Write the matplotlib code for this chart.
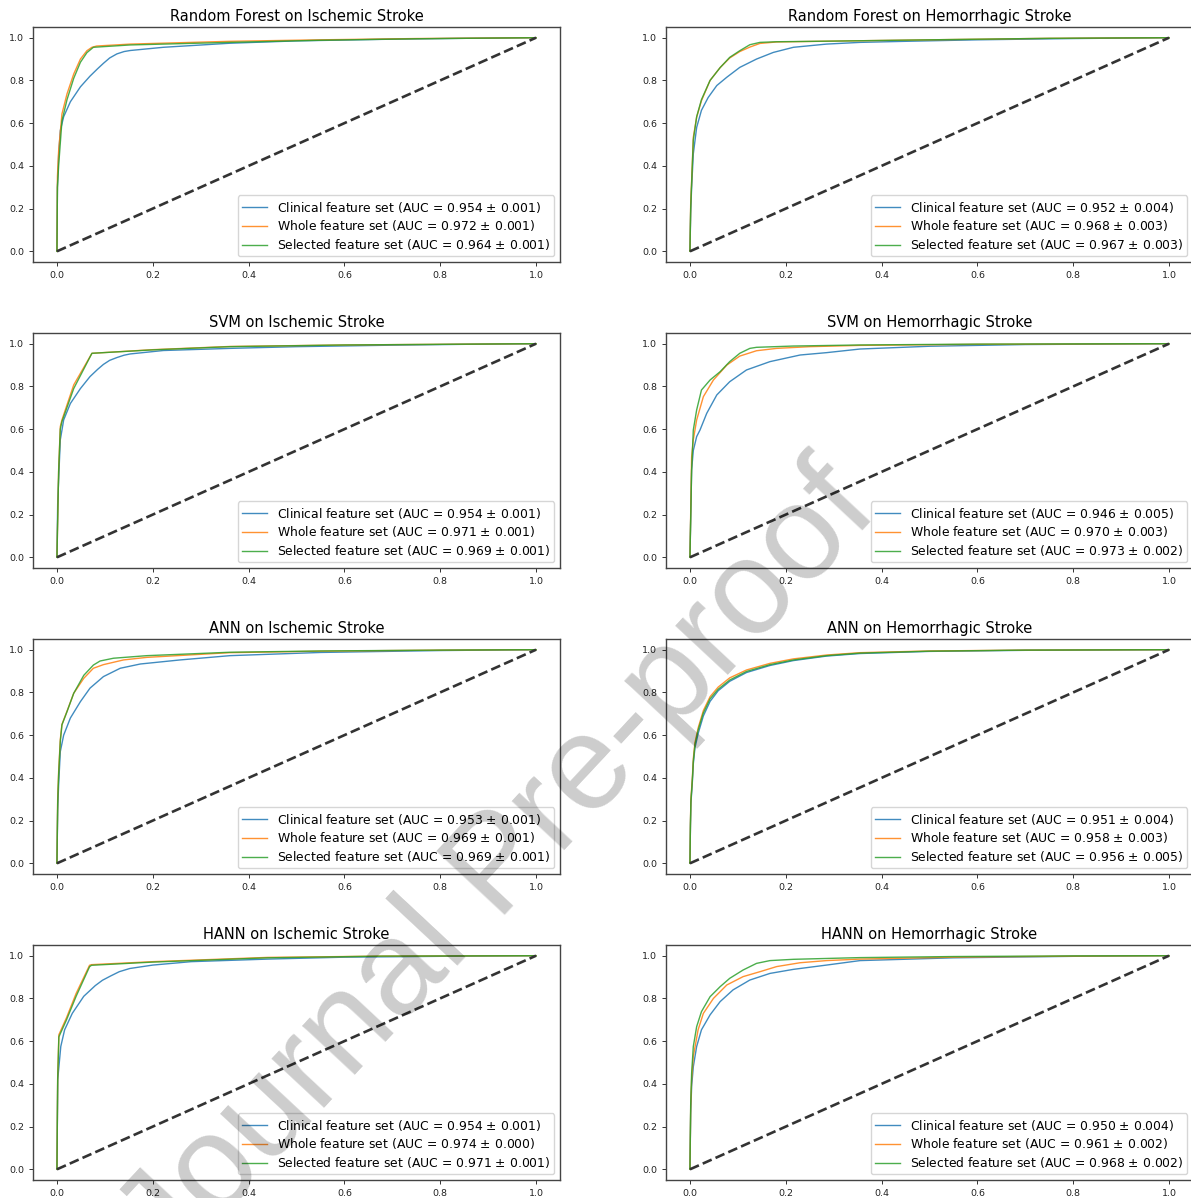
import matplotlib
matplotlib.use("Agg")
import matplotlib.pyplot as plt

# ---------------- data ----------------
titles = ["Random Forest on Ischemic Stroke", "Random Forest on Hemorrhagic Stroke",
          "SVM on Ischemic Stroke", "SVM on Hemorrhagic Stroke",
          "ANN on Ischemic Stroke", "ANN on Hemorrhagic Stroke",
          "HANN on Ischemic Stroke", "HANN on Hemorrhagic Stroke"]
series_names = ["Clinical feature set", "Whole feature set", "Selected feature set"]
auc_mean = [[0.954, 0.972, 0.964], [0.952, 0.968, 0.967],
            [0.954, 0.971, 0.969], [0.946, 0.970, 0.973],
            [0.953, 0.969, 0.969], [0.951, 0.958, 0.956],
            [0.954, 0.974, 0.971], [0.950, 0.961, 0.968]]
auc_std = [[0.001, 0.001, 0.001], [0.004, 0.003, 0.003],
           [0.001, 0.001, 0.001], [0.005, 0.003, 0.002],
           [0.001, 0.001, 0.001], [0.004, 0.003, 0.005],
           [0.001, 0.000, 0.001], [0.004, 0.002, 0.002]]
ticks = [0.0, 0.2, 0.4, 0.6, 0.8, 1.0]
tick_labels = ["0.0", "0.2", "0.4", "0.6", "0.8", "1.0"]

# RF ischemic
rf_isc_clin_fpr = [0, 0.001, 0.0035, 0.007, 0.014, 0.028, 0.049, 0.069, 0.085, 0.097, 0.11, 0.125, 0.14, 0.153, 0.222, 0.361, 0.5, 0.7, 0.85, 1.0]
rf_isc_clin_tpr = [0, 0.30, 0.45, 0.565, 0.63, 0.70, 0.77, 0.82, 0.855, 0.88, 0.905, 0.924, 0.935, 0.94, 0.955, 0.974, 0.985, 0.993, 0.997, 1.0]
rf_isc_whole_fpr = [0, 0.001, 0.0035, 0.0104, 0.021, 0.035, 0.049, 0.0625, 0.073, 0.083, 0.153, 0.361, 0.55, 0.75, 1.0]
rf_isc_whole_tpr = [0, 0.35, 0.47, 0.643, 0.737, 0.83, 0.90, 0.939, 0.955, 0.961, 0.970, 0.983, 0.99, 0.996, 1.0]
rf_isc_sel_fpr = [0, 0.001, 0.0035, 0.0104, 0.021, 0.035, 0.049, 0.0625, 0.076, 0.153, 0.361, 0.55, 0.75, 1.0]
rf_isc_sel_tpr = [0, 0.30, 0.40, 0.61, 0.71, 0.81, 0.885, 0.93, 0.955, 0.966, 0.978, 0.988, 0.995, 1.0]

# RF hemorrhagic
rf_hem_clin_fpr = [0, 0.0015, 0.0035, 0.007, 0.014, 0.024, 0.038, 0.056, 0.077, 0.104, 0.139, 0.174, 0.216, 0.285, 0.355, 0.45, 0.6, 0.8, 1.0]
rf_hem_clin_tpr = [0, 0.18, 0.30, 0.456, 0.58, 0.66, 0.72, 0.776, 0.815, 0.861, 0.90, 0.931, 0.955, 0.97, 0.978, 0.983, 0.99, 0.996, 1.0]
rf_hem_whole_fpr = [0, 0.0015, 0.0035, 0.007, 0.014, 0.024, 0.042, 0.063, 0.083, 0.104, 0.125, 0.146, 0.181, 0.3, 0.5, 0.75, 1.0]
rf_hem_whole_tpr = [0, 0.22, 0.33, 0.534, 0.628, 0.705, 0.80, 0.86, 0.905, 0.935, 0.956, 0.973, 0.98, 0.984, 0.99, 0.997, 1.0]
rf_hem_sel_fpr = [0, 0.0015, 0.0035, 0.007, 0.014, 0.024, 0.042, 0.063, 0.083, 0.104, 0.125, 0.146, 0.181, 0.3, 0.5, 0.75, 1.0]
rf_hem_sel_tpr = [0, 0.20, 0.32, 0.52, 0.63, 0.71, 0.80, 0.86, 0.908, 0.939, 0.967, 0.978, 0.981, 0.984, 0.99, 0.997, 1.0]

# SVM ischemic
svm_isc_clin_fpr = [0, 0.0015, 0.0035, 0.007, 0.014, 0.028, 0.049, 0.069, 0.085, 0.097, 0.11, 0.125, 0.14, 0.153, 0.222, 0.361, 0.5, 0.7, 0.85, 1.0]
svm_isc_clin_tpr = [0, 0.25, 0.363, 0.55, 0.643, 0.72, 0.79, 0.846, 0.88, 0.903, 0.922, 0.935, 0.946, 0.952, 0.968, 0.978, 0.986, 0.993, 0.997, 1.0]
svm_isc_whole_fpr = [0, 0.0035, 0.007, 0.0104, 0.035, 0.073, 0.2, 0.361, 0.6, 0.8, 1.0]
svm_isc_whole_tpr = [0, 0.41, 0.612, 0.643, 0.807, 0.955, 0.972, 0.987, 0.994, 0.997, 1.0]
svm_isc_sel_fpr = [0, 0.0035, 0.007, 0.0104, 0.035, 0.073, 0.2, 0.361, 0.6, 0.8, 1.0]
svm_isc_sel_tpr = [0, 0.40, 0.60, 0.635, 0.79, 0.955, 0.971, 0.986, 0.994, 0.997, 1.0]

# SVM hemorrhagic
svm_hem_clin_fpr = [0, 0.0035, 0.007, 0.014, 0.021, 0.035, 0.056, 0.083, 0.118, 0.167, 0.23, 0.285, 0.355, 0.5, 0.7, 1.0]
svm_hem_clin_tpr = [0, 0.41, 0.50, 0.565, 0.596, 0.674, 0.76, 0.822, 0.877, 0.916, 0.947, 0.958, 0.975, 0.988, 0.996, 1.0]
svm_hem_whole_fpr = [0, 0.0035, 0.007, 0.014, 0.028, 0.049, 0.077, 0.104, 0.139, 0.181, 0.25, 0.355, 0.6, 1.0]
svm_hem_whole_tpr = [0, 0.47, 0.55, 0.643, 0.752, 0.83, 0.90, 0.942, 0.967, 0.978, 0.986, 0.992, 0.997, 1.0]
svm_hem_sel_fpr = [0, 0.0035, 0.007, 0.014, 0.024, 0.042, 0.063, 0.083, 0.104, 0.125, 0.139, 0.216, 0.355, 0.6, 1.0]
svm_hem_sel_tpr = [0, 0.41, 0.596, 0.69, 0.783, 0.83, 0.869, 0.916, 0.955, 0.978, 0.983, 0.989, 0.994, 0.998, 1.0]

# ANN ischemic
ann_isc_clin_fpr = [0, 0.0015, 0.0035, 0.007, 0.014, 0.028, 0.049, 0.069, 0.097, 0.132, 0.174, 0.257, 0.361, 0.55, 0.8, 1.0]
ann_isc_clin_tpr = [0, 0.25, 0.368, 0.523, 0.60, 0.68, 0.757, 0.82, 0.874, 0.913, 0.933, 0.952, 0.972, 0.987, 0.996, 1.0]
ann_isc_whole_fpr = [0, 0.0015, 0.0035, 0.007, 0.0104, 0.021, 0.035, 0.056, 0.076, 0.097, 0.139, 0.1875, 0.361, 0.55, 0.8, 1.0]
ann_isc_whole_tpr = [0, 0.30, 0.43, 0.58, 0.65, 0.712, 0.796, 0.866, 0.913, 0.93, 0.952, 0.964, 0.986, 0.993, 0.998, 1.0]
ann_isc_sel_fpr = [0, 0.0015, 0.0035, 0.007, 0.0104, 0.021, 0.035, 0.056, 0.076, 0.09, 0.118, 0.1875, 0.361, 0.55, 0.8, 1.0]
ann_isc_sel_tpr = [0, 0.28, 0.414, 0.57, 0.648, 0.71, 0.796, 0.88, 0.928, 0.947, 0.96, 0.972, 0.988, 0.994, 0.998, 1.0]

# ANN hemorrhagic
ann_hem_fpr = [0, 0.001, 0.002, 0.005, 0.007, 0.0104, 0.0174, 0.028, 0.042, 0.059, 0.083, 0.118, 0.167, 0.216, 0.285, 0.355, 0.5, 0.7, 1.0]
ann_hem_clin_tpr = [0, 0.17, 0.28, 0.38, 0.465, 0.54, 0.61, 0.69, 0.758, 0.808, 0.852, 0.893, 0.926, 0.949, 0.97, 0.982, 0.992, 0.997, 1.0]
ann_hem_whole_tpr = [0, 0.19, 0.30, 0.40, 0.49, 0.565, 0.636, 0.715, 0.78, 0.825, 0.868, 0.905, 0.936, 0.957, 0.975, 0.986, 0.994, 0.998, 1.0]
ann_hem_sel_tpr = [0, 0.18, 0.29, 0.39, 0.477, 0.555, 0.626, 0.704, 0.77, 0.815, 0.858, 0.898, 0.93, 0.952, 0.972, 0.984, 0.993, 0.998, 1.0]

# HANN ischemic
hann_isc_clin_fpr = [0, 0.0016, 0.008, 0.016, 0.032, 0.056, 0.08, 0.095, 0.112, 0.13, 0.152, 0.2, 0.28, 0.44, 0.6, 0.8, 1.0]
hann_isc_clin_tpr = [0, 0.42, 0.575, 0.653, 0.73, 0.81, 0.86, 0.885, 0.905, 0.925, 0.94, 0.956, 0.972, 0.984, 0.993, 0.997, 1.0]
hann_isc_fpr = [0, 0.0015, 0.004, 0.02, 0.04, 0.068, 0.072, 0.2, 0.44, 0.68, 1.0]
hann_isc_whole_tpr = [0, 0.43, 0.63, 0.71, 0.823, 0.955, 0.958, 0.972, 0.992, 0.998, 1.0]
hann_isc_sel_tpr = [0, 0.42, 0.62, 0.70, 0.81, 0.948, 0.955, 0.97, 0.99, 0.998, 1.0]

# HANN hemorrhagic
hann_hem_clin_fpr = [0, 0.0015, 0.0035, 0.007, 0.014, 0.024, 0.042, 0.063, 0.09, 0.125, 0.167, 0.216, 0.285, 0.355, 0.55, 0.8, 1.0]
hann_hem_clin_tpr = [0, 0.26, 0.388, 0.48, 0.575, 0.653, 0.723, 0.785, 0.84, 0.886, 0.917, 0.936, 0.956, 0.977, 0.99, 0.997, 1.0]
hann_hem_whole_fpr = [0, 0.0015, 0.0035, 0.007, 0.017, 0.028, 0.049, 0.077, 0.111, 0.146, 0.181, 0.23, 0.285, 0.355, 0.55, 0.8, 1.0]
hann_hem_whole_tpr = [0, 0.28, 0.42, 0.528, 0.653, 0.73, 0.80, 0.863, 0.902, 0.925, 0.949, 0.967, 0.977, 0.984, 0.993, 0.998, 1.0]
hann_hem_sel_fpr = [0, 0.0015, 0.0035, 0.007, 0.014, 0.024, 0.042, 0.063, 0.083, 0.111, 0.139, 0.167, 0.216, 0.355, 0.55, 0.8, 1.0]
hann_hem_sel_tpr = [0, 0.30, 0.45, 0.575, 0.668, 0.738, 0.808, 0.855, 0.894, 0.933, 0.964, 0.977, 0.983, 0.991, 0.996, 0.999, 1.0]

diag = [0.0, 1.0]
watermark_text = "Journal Pre-proof"

panels = [
    [(rf_isc_clin_fpr, rf_isc_clin_tpr), (rf_isc_whole_fpr, rf_isc_whole_tpr), (rf_isc_sel_fpr, rf_isc_sel_tpr)],
    [(rf_hem_clin_fpr, rf_hem_clin_tpr), (rf_hem_whole_fpr, rf_hem_whole_tpr), (rf_hem_sel_fpr, rf_hem_sel_tpr)],
    [(svm_isc_clin_fpr, svm_isc_clin_tpr), (svm_isc_whole_fpr, svm_isc_whole_tpr), (svm_isc_sel_fpr, svm_isc_sel_tpr)],
    [(svm_hem_clin_fpr, svm_hem_clin_tpr), (svm_hem_whole_fpr, svm_hem_whole_tpr), (svm_hem_sel_fpr, svm_hem_sel_tpr)],
    [(ann_isc_clin_fpr, ann_isc_clin_tpr), (ann_isc_whole_fpr, ann_isc_whole_tpr), (ann_isc_sel_fpr, ann_isc_sel_tpr)],
    [(ann_hem_fpr, ann_hem_clin_tpr), (ann_hem_fpr, ann_hem_whole_tpr), (ann_hem_fpr, ann_hem_sel_tpr)],
    [(hann_isc_clin_fpr, hann_isc_clin_tpr), (hann_isc_fpr, hann_isc_whole_tpr), (hann_isc_fpr, hann_isc_sel_tpr)],
    [(hann_hem_clin_fpr, hann_hem_clin_tpr), (hann_hem_whole_fpr, hann_hem_whole_tpr), (hann_hem_sel_fpr, hann_hem_sel_tpr)],
]

# ---------------- styling / layout ----------------
colors = ["#1f77b4", "#ff7f0e", "#2ca02c"]
W, H = 1191, 1198
fig = plt.figure(figsize=(W / 100, H / 100), dpi=100)

col_left_px = [33, 666]
ax_w_px = 527
row_top_px = [27, 333, 639, 945]
ax_h_px = 235

for i, (title, curves) in enumerate(zip(titles, panels)):
    r, c = divmod(i, 2)
    left = col_left_px[c] / W
    bottom = 1 - (row_top_px[r] + ax_h_px) / H
    ax = fig.add_axes([left, bottom, ax_w_px / W, ax_h_px / H])
    for j, (fpr, tpr) in enumerate(curves):
        label = f"{series_names[j]} (AUC = {auc_mean[i][j]:.3f} $\\pm$ {auc_std[i][j]:.3f})"
        ax.plot(fpr, tpr, color=colors[j], lw=1.0, alpha=0.85, label=label)
    ax.plot(diag, diag, linestyle="--", color="#333333", lw=1.9)
    ax.set_xlim(-0.05, 1.05)
    ax.set_ylim(-0.05, 1.05)
    ax.set_xticks(ticks)
    ax.set_xticklabels(tick_labels)
    ax.set_yticks(ticks)
    ax.set_yticklabels(tick_labels)
    ax.tick_params(labelsize=6.8, length=3, width=0.7, colors="#333333", labelcolor="#222222")
    for s in ax.spines.values():
        s.set_color("#444444")
        s.set_linewidth(1.0)
    ax.set_title(title, fontsize=10.5, pad=4)
    ax.legend(loc="lower right", fontsize=8.9, labelspacing=0.3,
              handlelength=2.0, borderpad=0.35, borderaxespad=0.45,
              handletextpad=0.8)

fig.text(500 / W, 1 - 868 / H, watermark_text, fontsize=97,
         family="Liberation Sans", color="black", alpha=0.2,
         rotation=47, rotation_mode="anchor", ha="center", va="center",
         zorder=100)

fig.savefig("out.png", dpi=100)
